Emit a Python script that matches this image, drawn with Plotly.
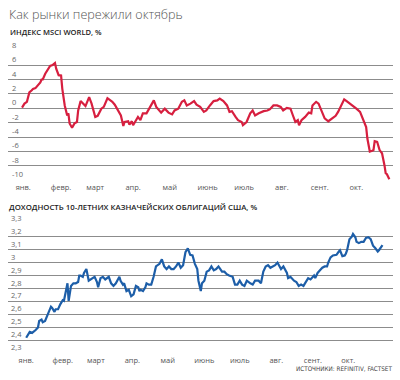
import plotly.graph_objects as go

# ---------------- data ----------------
msci_dates = [
    "2018-01-01", "2018-01-03", "2018-01-05", "2018-01-07", "2018-01-09", "2018-01-10", "2018-01-12", "2018-01-14",
    "2018-01-16", "2018-01-17", "2018-01-18", "2018-01-20", "2018-01-23", "2018-01-24", "2018-01-26", "2018-01-28",
    "2018-01-29", "2018-01-31",
    "2018-02-02", "2018-02-03", "2018-02-05", "2018-02-07", "2018-02-08", "2018-02-09", "2018-02-11", "2018-02-13",
    "2018-02-15", "2018-02-16", "2018-02-18", "2018-02-20", "2018-02-22", "2018-02-25", "2018-02-27",
    "2018-03-02", "2018-03-04", "2018-03-07", "2018-03-09", "2018-03-12", "2018-03-16", "2018-03-18", "2018-03-20",
    "2018-03-23", "2018-03-25", "2018-03-26", "2018-03-29", "2018-03-30",
    "2018-04-01", "2018-04-02", "2018-04-06", "2018-04-08", "2018-04-10", "2018-04-13", "2018-04-16", "2018-04-19",
    "2018-04-21", "2018-04-25", "2018-04-28",
    "2018-05-01", "2018-05-04", "2018-05-06", "2018-05-09", "2018-05-12", "2018-05-14", "2018-05-16", "2018-05-19",
    "2018-05-22", "2018-05-24", "2018-05-27", "2018-05-30",
    "2018-06-01", "2018-06-04", "2018-06-07", "2018-06-10", "2018-06-12", "2018-06-15", "2018-06-18", "2018-06-20",
    "2018-06-22", "2018-06-25", "2018-06-27", "2018-06-30",
    "2018-07-01", "2018-07-04", "2018-07-07", "2018-07-09", "2018-07-11", "2018-07-14", "2018-07-18", "2018-07-21",
    "2018-07-23", "2018-07-26", "2018-07-29",
    "2018-08-01", "2018-08-03", "2018-08-06", "2018-08-09", "2018-08-11", "2018-08-13", "2018-08-15", "2018-08-16",
    "2018-08-18", "2018-08-21", "2018-08-24", "2018-08-26", "2018-08-27", "2018-08-30",
    "2018-09-01", "2018-09-04", "2018-09-06", "2018-09-09", "2018-09-12", "2018-09-15", "2018-09-17", "2018-09-19",
    "2018-09-22", "2018-09-24", "2018-09-27", "2018-09-30",
    "2018-10-02", "2018-10-05", "2018-10-08", "2018-10-10", "2018-10-11", "2018-10-13", "2018-10-15", "2018-10-16",
    "2018-10-17", "2018-10-19", "2018-10-21", "2018-10-23", "2018-10-25", "2018-10-26", "2018-10-27", "2018-10-29",
]
msci_values = [
    0.1, 0.65, 0.9, 2.2, 2.5, 2.7, 2.8, 3.2, 3.6, 4.0, 4.0, 4.8, 5.6, 5.9, 6.0, 6.3, 5.5, 4.6,
    4.55, 2.7, 0.4, -1.0, -0.7, -2.1, -2.7, -2.1, -1.9, -0.3, 1.0, 0.65, 0.3, 1.55, 0.65,
    -1.2, -1.05, -0.05, 0.2, 1.4, 0.9, 0.5, -0.05, -1.0, -2.45, -1.9, -1.8, -2.25,
    -1.8, -2.35, -1.2, -1.65, -0.7, -0.7, 0.2, 1.1, 0.2, -0.6, -0.05,
    -0.6, -0.85, -0.3, -0.05, 0.9, 1.1, 0.4, 0.65, 1.0, 0.5, 0.2, -0.5,
    -0.3, 0.4, 1.0, 1.1, 1.35, 1.0, 0.4, -0.5, -0.4, -1.2, -1.65, -1.9,
    -2.35, -1.9, -0.7, -0.3, -1.0, -0.7, -0.4, -0.3, -0.15, 0.4, 0.4,
    0.2, -0.3, 0.05, -0.05, -1.0, -1.9, -1.65, -2.35, -1.65, -1.2, -0.6, -0.7, 0.4, 0.9,
    0.65, -0.7, -1.4, -1.8, -1.4, -1.05, -0.5, 0.3, 1.25, 1.0, 0.65, 0.3,
    -0.05, -0.5, -1.9, -2.6, -4.2, -6.0, -5.9, -5.8, -4.55, -4.65, -5.8, -6.25, -7.9, -9.0, -9.15, -9.85,
]

ust_dates = [
    "2018-01-02", "2018-01-05", "2018-01-07", "2018-01-09", "2018-01-10", "2018-01-12", "2018-01-13", "2018-01-15",
    "2018-01-16", "2018-01-18", "2018-01-20", "2018-01-22", "2018-01-23", "2018-01-24", "2018-01-26", "2018-01-27",
    "2018-01-29", "2018-01-31",
    "2018-02-02", "2018-02-03", "2018-02-05", "2018-02-06", "2018-02-07", "2018-02-09", "2018-02-11", "2018-02-13",
    "2018-02-15", "2018-02-16", "2018-02-17", "2018-02-19", "2018-02-20", "2018-02-22", "2018-02-24", "2018-02-27",
    "2018-03-01", "2018-03-03", "2018-03-04", "2018-03-06", "2018-03-08", "2018-03-10", "2018-03-13", "2018-03-15",
    "2018-03-17", "2018-03-19", "2018-03-22", "2018-03-23", "2018-03-25", "2018-03-26", "2018-03-28", "2018-03-30",
    "2018-04-01", "2018-04-03", "2018-04-05", "2018-04-07", "2018-04-08", "2018-04-09", "2018-04-11", "2018-04-13",
    "2018-04-14", "2018-04-16", "2018-04-18", "2018-04-20", "2018-04-22", "2018-04-25", "2018-04-27", "2018-04-29",
    "2018-05-01", "2018-05-03", "2018-05-05", "2018-05-07", "2018-05-09", "2018-05-11", "2018-05-13", "2018-05-15",
    "2018-05-17", "2018-05-19", "2018-05-21", "2018-05-23", "2018-05-25", "2018-05-27", "2018-05-28", "2018-05-30",
    "2018-05-31",
    "2018-06-02", "2018-06-04", "2018-06-06", "2018-06-08", "2018-06-10", "2018-06-12", "2018-06-14", "2018-06-17",
    "2018-06-19", "2018-06-21", "2018-06-23", "2018-06-26", "2018-06-28", "2018-06-30",
    "2018-07-02", "2018-07-04", "2018-07-06", "2018-07-08", "2018-07-11", "2018-07-13", "2018-07-15", "2018-07-18",
    "2018-07-20", "2018-07-22", "2018-07-24", "2018-07-26", "2018-07-28", "2018-07-30",
    "2018-08-01", "2018-08-03", "2018-08-04", "2018-08-06", "2018-08-08", "2018-08-11", "2018-08-12", "2018-08-14",
    "2018-08-17", "2018-08-19", "2018-08-21", "2018-08-23", "2018-08-25", "2018-08-27", "2018-08-29", "2018-08-31",
    "2018-09-03", "2018-09-04", "2018-09-06", "2018-09-08", "2018-09-10", "2018-09-12", "2018-09-14", "2018-09-15",
    "2018-09-17", "2018-09-19", "2018-09-22", "2018-09-24", "2018-09-25", "2018-09-27", "2018-09-29", "2018-09-30",
    "2018-10-01", "2018-10-03", "2018-10-05", "2018-10-06", "2018-10-08", "2018-10-09", "2018-10-11", "2018-10-13",
    "2018-10-15", "2018-10-17", "2018-10-19", "2018-10-21", "2018-10-23", "2018-10-25", "2018-10-27", "2018-10-28",
    "2018-10-30", "2018-10-31",
]
ust_values = [
    2.42, 2.466, 2.458, 2.47, 2.48, 2.50, 2.55, 2.56, 2.54, 2.55, 2.60, 2.64, 2.66, 2.65, 2.62, 2.64, 2.64, 2.68,
    2.71, 2.705, 2.78, 2.84, 2.705, 2.82, 2.84, 2.84, 2.85, 2.90, 2.90, 2.89, 2.92, 2.95, 2.86, 2.88,
    2.89, 2.85, 2.81, 2.88, 2.89, 2.87, 2.89, 2.84, 2.82, 2.84, 2.89, 2.86, 2.83, 2.84, 2.78, 2.79,
    2.74, 2.755, 2.82, 2.81, 2.78, 2.79, 2.78, 2.81, 2.84, 2.83, 2.83, 2.89, 2.97, 2.99, 3.025, 2.97,
    2.95, 2.97, 2.95, 2.95, 2.97, 3.00, 2.96, 2.98, 3.08, 3.11, 3.06, 3.055, 2.99, 2.95, 2.86, 2.78, 2.84,
    2.86, 2.93, 2.94, 2.97, 2.94, 2.95, 2.97, 2.93, 2.93, 2.91, 2.90, 2.89, 2.83, 2.83,
    2.86, 2.83, 2.82, 2.86, 2.84, 2.83, 2.86, 2.86, 2.84, 2.93, 2.97, 2.98, 2.96, 2.97,
    2.98, 3.00, 2.98, 2.95, 2.97, 2.92, 2.88, 2.89, 2.86, 2.85, 2.82, 2.83, 2.82, 2.85, 2.88, 2.87,
    2.90, 2.88, 2.92, 2.94, 2.96, 2.97, 2.97, 3.00, 3.04, 3.055, 3.06, 3.085, 3.095, 3.05, 3.055, 3.07,
    3.095, 3.18, 3.20, 3.22, 3.195, 3.16, 3.15, 3.16, 3.16, 3.19, 3.195, 3.18, 3.13, 3.11, 3.085, 3.095,
    3.12, 3.135,
]

assert len(msci_dates) == len(msci_values)
assert len(ust_dates) == len(ust_values)

month_ticks = ["2018-01-02", "2018-02-02", "2018-03-02", "2018-04-02", "2018-05-02",
               "2018-06-02", "2018-07-02", "2018-08-02", "2018-09-02", "2018-10-02"]
month_labels = ["янв.", "февр.", "март", "апр.", "май", "июнь", "июль", "авг.", "сент.", "окт."]

msci_ticks = [8, 6, 4, 2, 0, -2, -4, -6, -8, -10]
msci_tick_labels = ["8", "6", "4", "2", "0", "-2", "-4", "-6", "-8", "-10"]
ust_ticks = [3.3, 3.2, 3.1, 3.0, 2.9, 2.8, 2.7, 2.6, 2.5, 2.4, 2.3]
ust_tick_labels = ["3,3", "3,2", "3,1", "3", "2,9", "2,8", "2,7", "2,6", "2,5", "2,4", "2,3"]

title_text = "Как рынки пережили октябрь"
msci_title = "ИНДЕКС MSCI WORLD, %"
ust_title = "ДОХОДНОСТЬ 10-ЛЕТНИХ КАЗНАЧЕЙСКИХ ОБЛИГАЦИЙ США, %"
source_text = "ИСТОЧНИКИ: REFINITIV, FACTSET"

# ---------------- figure ----------------
W, H = 400, 380
GRID = "#8c8c8c"
FONT = "Open Sans, Noto Sans, sans-serif"
x1_range = ["2017-12-20 12:00", "2018-11-01 00:00"]
x2_range = ["2017-12-17 14:00", "2018-11-08 22:00"]

fig = go.Figure()
fig.add_trace(go.Scatter(x=msci_dates, y=msci_values, mode="lines",
                         line=dict(color="#d71f3f", width=2.2), xaxis="x", yaxis="y",
                         hoverinfo="skip", showlegend=False))
fig.add_trace(go.Scatter(x=ust_dates, y=ust_values, mode="lines",
                         line=dict(color="#1d5ea8", width=2.2), xaxis="x2", yaxis="y2",
                         hoverinfo="skip", showlegend=False))

xdom = [8 / W, 393 / W]
ydom1 = [1 - 181 / H, 1 - 50 / H]
ydom2 = [1 - 354 / H, 1 - 223 / H]

common_x = dict(showgrid=False, zeroline=False, showline=False, ticks="",
                tickmode="array", tickvals=month_ticks, ticktext=month_labels,
                tickfont=dict(size=7.5, color="#555555", family=FONT), fixedrange=True)
common_y = dict(showgrid=True, gridcolor=GRID, gridwidth=1, zeroline=False, showline=False,
                ticks="", showticklabels=False, tickmode="array", fixedrange=True)

fig.update_layout(
    width=W, height=H, margin=dict(l=0, r=0, t=0, b=0),
    paper_bgcolor="white", plot_bgcolor="white",
    font=dict(family=FONT),
    xaxis=dict(domain=xdom, anchor="y", range=x1_range, **common_x),
    yaxis=dict(domain=ydom1, anchor="x", range=[-10.1, 8.1], tickvals=msci_ticks, **common_y),
    xaxis2=dict(domain=xdom, anchor="y2", range=x2_range, **common_x),
    yaxis2=dict(domain=ydom2, anchor="x2", range=[2.295, 3.305], tickvals=ust_ticks, **common_y),
)

annotations = []
for v, t in zip(msci_ticks, msci_tick_labels):
    annotations.append(dict(x=10 / W, xref="paper", y=v, yref="y", text=t, showarrow=False,
                            xanchor="left", yanchor="bottom", yshift=-1,
                            font=dict(size=7.5, color="#666666", family=FONT)))
for v, t in zip(ust_ticks, ust_tick_labels):
    annotations.append(dict(x=9 / W, xref="paper", y=v, yref="y2", text=t, showarrow=False,
                            xanchor="left", yanchor="bottom", yshift=-1,
                            font=dict(size=7.5, color="#666666", family=FONT)))

annotations.append(dict(x=7 / W, y=1 - 14 / H, xref="paper", yref="paper", text=title_text,
                        showarrow=False, xanchor="left", yanchor="middle",
                        font=dict(size=12.6, color="#555555", family=FONT, weight=300)))
annotations.append(dict(x=8 / W, y=1 - 32 / H, xref="paper", yref="paper", text=msci_title,
                        showarrow=False, xanchor="left", yanchor="middle",
                        font=dict(size=7.6, color="#222222", family=FONT, weight=600)))
annotations.append(dict(x=7 / W, y=1 - 207 / H, xref="paper", yref="paper", text=ust_title,
                        showarrow=False, xanchor="left", yanchor="middle",
                        font=dict(size=7.8, color="#222222", family=FONT, weight=600)))
annotations.append(dict(x=394 / W, y=1 - 368 / H, xref="paper", yref="paper", text=source_text,
                        showarrow=False, xanchor="right", yanchor="middle",
                        font=dict(size=6.3, color="#444444",
                                  family="Liberation Sans Narrow, DejaVu Sans Condensed, sans-serif")))

fig.update_layout(annotations=annotations)

fig.write_html("out.html", config={"displayModeBar": False},
               post_script="document.body.style.margin='0';")
